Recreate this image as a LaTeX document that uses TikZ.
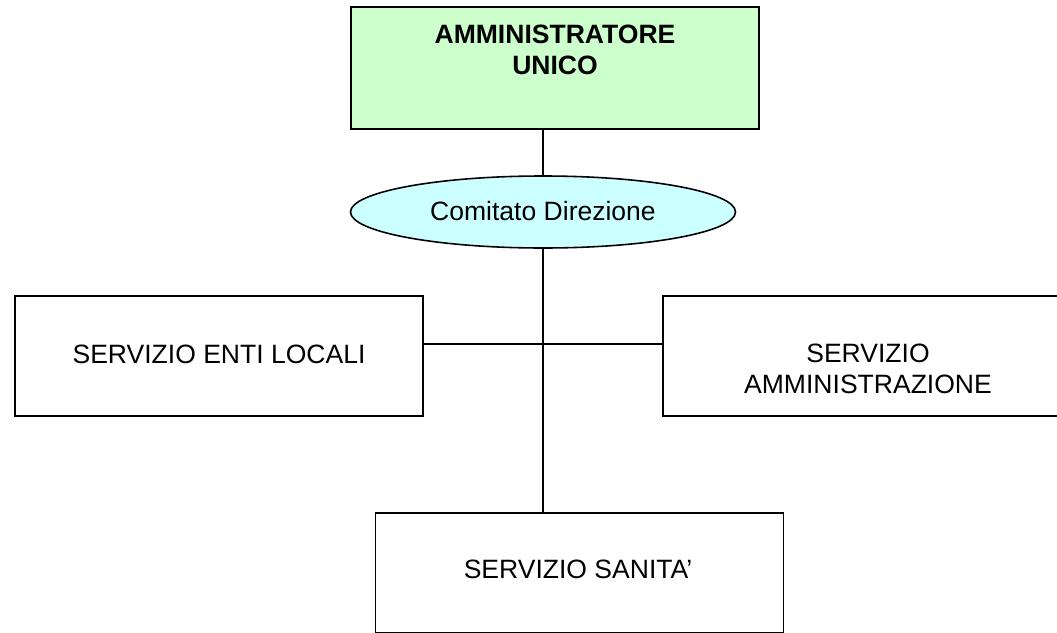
\documentclass[tikz,border=0pt]{standalone}
\usepackage{fontspec}
\setmainfont{Liberation Sans}
\usetikzlibrary{shapes.geometric, positioning}
\definecolor{palegreen}{HTML}{CCFFCC}
\definecolor{palecyan}{HTML}{CCFFFF}

\begin{document}
\begin{tikzpicture}[x=0.02cm, y=-0.02cm, line width=0.9pt,
  box/.style={rectangle, draw=black, minimum width=408*0.02cm, minimum height=120*0.02cm, inner sep=0pt},
  label/.style={font=\fontsize{15}{17.6}\selectfont, align=center, inner sep=0pt}]
\useasboundingbox (0,0) rectangle (1057,632);

% Boxes
\node[box, fill=palegreen, minimum height=122*0.02cm] (admin) at (555,68) {};
\node[ellipse, draw=black, fill=palecyan, minimum width=385*0.02cm, minimum height=72*0.02cm, inner sep=0pt] (comitato) at (543,212) {};
\node[box] (enti) at (219,356) {};
\node[box, minimum width=420*0.02cm] (amm) at (873,356) {};
\node[box] (sanita) at (579.5,573) {};

% Add text
\node[label, font=\fontsize{15.1}{17.6}\selectfont\bfseries] (admintext) at (555,50) {AMMINISTRATORE\\UNICO};
\node[label, font=\fontsize{15.1}{17.6}\selectfont] (comitatotext) at (543,211) {Comitato Direzione};
\node[label, font=\fontsize{15.1}{17.6}\selectfont] (entitext) at (219,354) {SERVIZIO ENTI LOCALI};
\node[label, font=\fontsize{15.1}{17.6}\selectfont] (ammtext) at (868,369) {SERVIZIO\\AMMINISTRAZIONE};
\node[label, font=\fontsize{15.1}{17.6}\selectfont] (sanitatext) at (578,569) {SERVIZIO SANITA’};

% Lines
\coordinate (hub) at (543,344);
\draw (comitato.north |- admin.south) -- (comitato.north);
\draw (comitato.south) -- (comitato.south |- sanita.north);
\draw (enti.east |- hub) -- (hub) -- (amm.west |- hub);
\end{tikzpicture}
\end{document}
